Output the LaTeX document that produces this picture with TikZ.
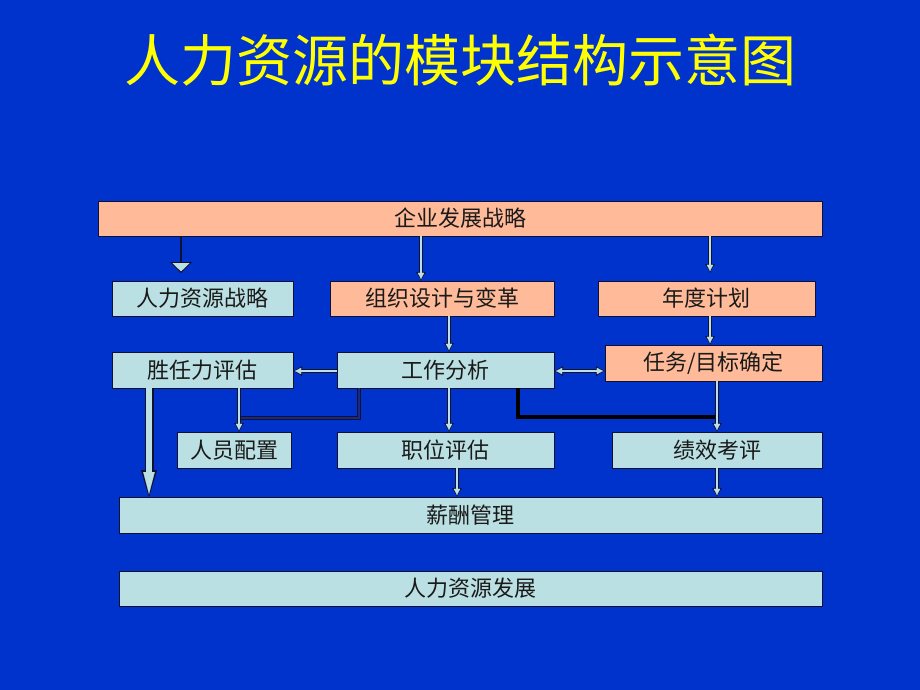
\documentclass[tikz,border=0pt]{standalone}
\usepackage{fontspec}
\setmainfont{Noto Sans CJK SC}
\usetikzlibrary{arrows.meta}
\definecolor{bg}{HTML}{0033CC}
\definecolor{salmon}{HTML}{FFBB99}
\definecolor{lightc}{HTML}{BBE0E3}
\definecolor{dk}{HTML}{101030}
\definecolor{txt}{HTML}{1A1A1A}
\definecolor{ttl}{HTML}{FFFF00}
\definecolor{dk2}{HTML}{1A2A80}
\newcommand\bx[7]{\node[box,fill=#6,minimum width={(#4-#2)*1pt},minimum height={(#5-#3)*1pt}] (#1) at (#2,#3) {#7};}
\begin{document}
\begin{tikzpicture}[x=1pt,y=-1pt,
  box/.style={draw=dk, line width=0.8pt, inner sep=0pt, outer sep=0pt, anchor=north west,
    font=\fontsize{22}{22}\selectfont, text=txt},
  conn/.style={draw=dk, line width=4.5pt, shorten >=#1,
    -{Latex[length=9pt,width=10pt,line width=0.4pt]},
    postaction={draw=lightc, line width=2.5pt, shorten >={#1+1.6pt},
      -{Latex[length=6.5pt,width=6.5pt,line width=0.1pt]}}},
  conn/.default=0pt,
  conn2/.style={draw=dk, line width=4.5pt,
    {Latex[length=9pt,width=10pt,line width=0.4pt]}-{Latex[length=9pt,width=10pt,line width=0.4pt]},
    postaction={draw=lightc, line width=2.5pt, shorten >=1.6pt, shorten <=1.6pt,
      {Latex[length=6.5pt,width=6.5pt,line width=0.1pt]}-{Latex[length=6.5pt,width=6.5pt,line width=0.1pt]}}},
  fat/.style={draw=dk, line width=9pt,
    -{Triangle[length=27pt,width=16pt,line width=0.4pt]},
    postaction={draw=lightc, line width=6pt, shorten >=3pt,
      -{Triangle[length=22pt,width=11.5pt,line width=0.1pt]}}},
  tri/.style={draw=dk, line width=2pt, -{Triangle[length=11pt,width=22pt,fill=lightc,line width=0.9pt]}},
  darkl/.style={draw=dk, double=dk2, double distance=1.3pt, line width=1.2pt},
  blackl/.style={draw=black, line width=4pt}
]
\fill[bg] (0,0) rectangle (920,690);
\useasboundingbox (0,0) rectangle (920,690);

\node[text=ttl, font=\fontsize{56}{56}\selectfont] (title) at (460,60) {人力资源的模块结构示意图};

\bx{ent}{98}{201}{822}{236}{salmon}{企业发展战略}
\bx{hrs}{112}{281}{293}{316}{lightc}{人力资源战略}
\bx{org}{330}{281}{554}{316}{salmon}{组织设计与变革}
\bx{ann}{598}{281}{815}{316}{salmon}{年度计划}
\bx{com}{112}{352}{293}{388}{lightc}{胜任力评估}
\bx{job}{337}{352}{554}{388}{lightc}{工作分析}
\bx{tgt}{605}{345}{822}{381}{salmon}{任务/目标确定}
\bx{stf}{177}{432}{291}{468}{lightc}{人员配置}
\bx{pos}{337}{432}{554}{468}{lightc}{职位评估}
\bx{prf}{612}{432}{822}{468}{lightc}{绩效考评}
\bx{pay}{119}{497}{822}{533}{lightc}{薪酬管理}
\bx{dev}{119}{571}{822}{606}{lightc}{人力资源发展}

\coordinate (x181) at (181,0);
\coordinate (x421) at (421,0);
\coordinate (x710) at (710,0);
\coordinate (x449) at (449,0);
\coordinate (x239) at (239,0);
\coordinate (x717) at (717,0);
\coordinate (x149) at (149,0);
\coordinate (x457) at (457,0);
\coordinate (x359) at (359,0);
\coordinate (x518) at (518,0);
\coordinate (y371) at (0,371);
\coordinate (j1) at (359,418);
\coordinate (j2) at (241,418);
\coordinate (k1) at (518,417);
\coordinate (k2) at (715,417);

\draw[tri, shorten >=8pt] (ent.south -| x181) -- (hrs.north -| x181);
\draw[conn] (ent.south -| x421) -- (org.north -| x421);
\draw[conn=8pt] (ent.south -| x710) -- (ann.north -| x710);
\draw[conn] (org.south -| x449) -- (job.north -| x449);
\draw[conn] (ann.south -| x710) -- (tgt.north -| x710);
\draw[conn] (job.west |- y371) -- (com.east |- y371);
\draw[conn2] (job.east |- y371) -- (tgt.west |- y371);
\draw[darkl] (job.south -| x359) -- (j1) -- (j2);
\draw[blackl] (job.south -| x518) -- (k1) -- (k2);
\draw[conn] (com.south -| x239) -- (stf.north -| x239);
\draw[conn] (job.south -| x449) -- (pos.north -| x449);
\draw[conn] (tgt.south -| x717) -- (prf.north -| x717);
\draw[fat] (com.south -| x149) -- (pay.north -| x149);
\draw[conn] (pos.south -| x457) -- (pay.north -| x457);
\draw[conn] (prf.south -| x717) -- (pay.north -| x717);
\end{tikzpicture}
\end{document}
